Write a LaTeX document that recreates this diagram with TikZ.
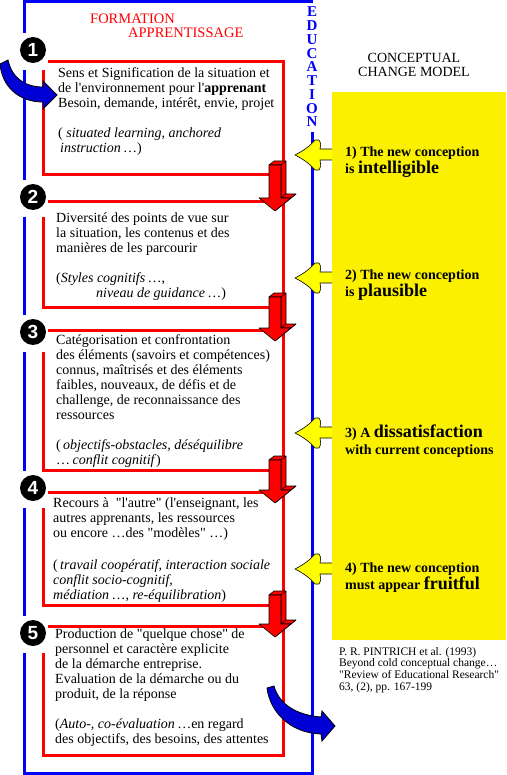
\documentclass[tikz,border=0pt]{standalone}
\usepackage{fontspec}
\setmainfont{Liberation Serif}[Ligatures=TeXOff]
\setsansfont{Liberation Sans}
\usetikzlibrary{calc}

\definecolor{edublue}{RGB}{0,0,250}
\definecolor{formred}{RGB}{255,0,0}
\definecolor{ccyellow}{RGB}{250,240,0}
\definecolor{hintyellow}{RGB}{255,255,0}

\newcommand{\cmword}[1]{{\fontsize{18}{18}\selectfont #1}}

\tikzset{
	blueframe/.style={edublue, line width=3pt},
	redframe/.style={formred, line width=3pt},
	eduletter/.style={text=edublue, inner sep=0pt, font=\bfseries\fontsize{15}{15}\selectfont},
	numdisc/.style={circle, fill=black, text=white, minimum size=26pt, inner sep=0pt,
		font=\sffamily\bfseries\fontsize{19}{19}\selectfont},
	boxtext/.style={anchor=north west, align=left, inner sep=0pt, font=\fontsize{14}{15}\selectfont},
	cmtext/.style={anchor=north west, align=left, inner sep=0pt, font=\bfseries\fontsize{14}{16.5}\selectfont},
	reftext/.style={anchor=north west, align=left, inner sep=0pt, font=\fontsize{11.5}{11.7}\selectfont},
	heading/.style={anchor=base west, inner sep=0pt, text=formred, font=\fontsize{14.5}{14.5}\selectfont},
	cmhead/.style={anchor=north, align=center, inner sep=0pt, font=\fontsize{14}{14.5}\selectfont},
	panel/.style={anchor=north west, fill=ccyellow, minimum width=174pt, minimum height=548pt,
		inner sep=0pt, outer sep=0pt},
	blockarrow/.style={fill=formred, draw=black, line width=0.6pt, line join=round},
	hintarrow/.style={fill=hintyellow, draw=black, line width=0.6pt},
	bendarrow/.style={fill=edublue!85!black, draw=black, line width=0.8pt},
}

\begin{document}
\begin{tikzpicture}[x=1pt, y=-1pt]
	% -------- Canvas (pixel grid of the original, y runs downwards) --------
	\useasboundingbox (0,0) rectangle (506,775);
	
	% -------- Blue EDUCATION frame --------
	\draw[blueframe] (24,33) -- (24,2) -- (313,2);
	\foreach \ya/\yb in {70/180, 217/315, 352/471, 508/616}
		\draw[blueframe] (24,\ya) -- (24,\yb);
	\draw[blueframe] (24,653) -- (24,773) -- (312,773) -- (312,132);
	\foreach \l [count=\k] in {E,D,U,C,A,T,I,O,N}
		\node[eduletter] (edu\k) at (312,{12+13.75*(\k-1)}) {\l};
	
	% -------- Red FORMATION boxes and numbered discs --------
	\foreach \n/\yt/\yb/\yc in {1/62/175/50, 2/202/307/197, 3/330/470/332, 4/492/605/488, 5/626/755/633}{
		\draw[redframe] (48,\yt) -- (283,\yt) -- (283,\yb) -- (43,\yb) -- (43,\yc+20);
		\node[numdisc] (num\n) at (33,\yc) {\n};
	}
	
	% -------- 3D block arrows from one box to the next --------
	\foreach \ya/\yz in {165/211, 297/341, 460/503, 595/637}{
		\pgfmathsetmacro{\yh}{\yz-13}
		\pgfmathsetmacro{\yab}{\ya-4}
		\pgfmathsetmacro{\yhb}{\yh-4}
		\pgfmathsetmacro{\yzb}{\yz-4}
		% side faces
		\draw[blockarrow] (269,\ya) -- (274,\yab) -- (286,\yab) -- (286,\yhb) -- (296,\yhb)
			-- (280,\yzb) -- (275,\yz) -- (291,\yh) -- (281,\yh) -- (281,\ya) -- cycle;
		\draw[line width=0.6pt] (281,\ya) -- (286,\yab) (281,\yh) -- (286,\yhb) (291,\yh) -- (296,\yhb);
		% front face
		\draw[blockarrow] (269,\ya) -- (281,\ya) -- (281,\yh) -- (291,\yh) -- (275,\yz)
			-- (259,\yh) -- (269,\yh) -- cycle;
	}
	
	% -------- Yellow hint arrows --------
	\foreach \y in {155,278,433,569}
		\draw[hintarrow] (295,\y) .. controls (303,\y-4) and (310,\y-9) .. (315,\y-15)
			-- (319,\y-15) .. controls (321,\y-12) .. (320,\y-6) -- (336,\y-6) -- (336,\y+5)
			-- (320,\y+5) .. controls (321,\y+12) .. (319,\y+15) -- (315,\y+15)
			.. controls (310,\y+9) and (303,\y+4) .. (295,\y) -- cycle;
	
	% -------- Conceptual change panel --------
	\node[panel] (panel) at (332,92) {};
	
	% -------- Titles --------
	\node[heading] (formation) at (90,24) {FORMATION};
	\node[heading] (apprent) at (128,38) {APPRENTISSAGE};
	\node[cmhead] (cmtitle) at (414,53) {CONCEPTUAL\\CHANGE MODEL};
	
	% -------- Box texts --------
	\node[boxtext] (txt1) at (58,67) {Sens et Signification de la situation et\\
		de l'environnement pour l'\textbf{apprenant}\\
		Besoin, demande, intérêt, envie, projet\\[15pt]
		( \textit{situated learning, anchored}\\
		\hspace*{2pt}\textit{instruction}\,…)};
	\node[boxtext] (txt2) at (56,213) {Diversité des points de vue sur\\
		la situation, les contenus et des\\
		manières de les parcourir\\[15pt]
		(\textit{Styles cognitifs}\,…,\\
		\hspace*{40pt}\textit{niveau de guidance}\,…)};
	\node[boxtext] (txt3) at (56,334) {Catégorisation et confrontation\\
		des éléments (savoirs et compétences)\\
		connus, maîtrisés et des éléments\\
		faibles, nouveaux, de défis et de\\
		challenge, de reconnaissance des\\
		ressources\\[15pt]
		(\,\textit{objectifs-obstacles, déséquilibre}\\
		…\,\textit{conflit cognitif})};
	\node[boxtext] (txt4) at (53,498) {Recours à~ "l'autre" (l'enseignant, les\\
		autres apprenants, les ressources\\
		ou encore …des "modèles" …)\\[17pt]
		(\,\textit{travail coopératif, interaction sociale}\\
		\textit{conflit socio-cognitif,}\\
		\textit{médiation}\,…, \textit{re-équilibration})};
	\node[boxtext] (txt5) at (55,629) {Production de "quelque chose" de\\
		personnel et caractère explicite\\
		de la démarche entreprise.\\
		Evaluation de la démarche ou du\\
		produit, de la réponse\\[15pt]
		(\textit{Auto-, co-évaluation}\,…en regard\\
		des objectifs, des besoins, des attentes};
	
	% -------- Conceptual change conditions --------
	\node[cmtext] (cm1) at (345,147) {1) The new conception\\ is \cmword{intelligible}};
	\node[cmtext] (cm2) at (345,270) {2) The new conception\\ is \cmword{plausible}};
	\node[cmtext] (cm3) at (345,425) {3) A \cmword{dissatisfaction}\\ with current conceptions};
	\node[cmtext] (cm4) at (345,563) {4) The new conception\\ must appear \cmword{fruitful}};
	\node[reftext] (ref) at (339,647) {P. R. PINTRICH et al. (1993)\\
		Beyond cold conceptual change…\\
		"Review of Educational Research"\\
		63, (2), pp. 167-199};
	
	% -------- Curved blue arrows (entry and exit) --------
	\draw[bendarrow] (8,60) .. controls (12,78) and (25,87) .. (43,87) -- (43,81) -- (57,95)
		-- (43,109) -- (43,102) .. controls (18,102) and (2,86) .. (0,64) -- cycle;
	\draw[bendarrow] (274,686) .. controls (279,704) and (296,715) .. (321,717) -- (322,711)
		-- (335,726) -- (322,741) -- (321,734) .. controls (290,733) and (270,712) .. (267,688) -- cycle;
\end{tikzpicture}
\end{document}
